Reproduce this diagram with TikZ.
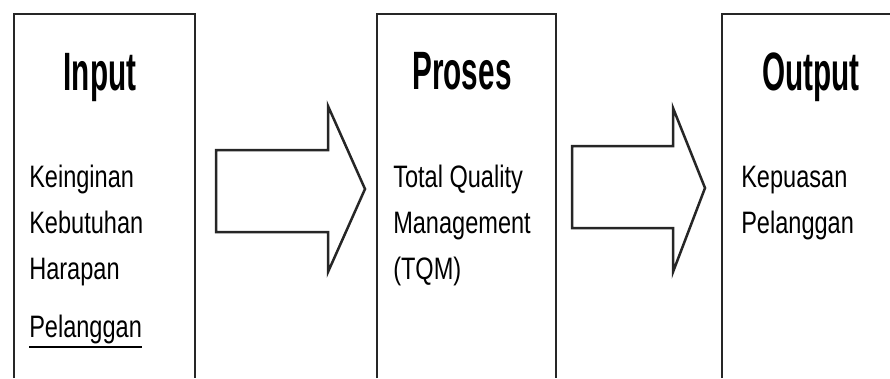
\documentclass[tikz,border=0pt]{standalone}
\usepackage{fontspec}
\setmainfont{Liberation Sans}
\newfontfamily\headfont[FakeStretch=0.55]{Liberation Sans}
\newfontfamily\bodyfont[FakeStretch=0.76]{Liberation Sans}
\usetikzlibrary{positioning}
% heavier underline than \underline gives
\newcommand{\ulword}[1]{\setbox0\hbox{#1}\rlap{\rule[-11pt]{\wd0}{2.5pt}}\box0}

\begin{document}
\begin{tikzpicture}[x=1pt, y=-1pt, line width=2.5pt,
    frame/.style={draw=black!85, line join=miter},
    title/.style={font=\headfont\bfseries\fontsize{54}{54}\selectfont, inner sep=0pt, anchor=base},
    body/.style={font=\bodyfont\fontsize{31}{46}\selectfont, align=left, inner sep=0pt, anchor=base west}]
        \useasboundingbox (0,0) rectangle (890,378);
        % open boxes
        \draw[frame] (14,378) -- (14,14) -- (195,14) -- (195,378);
        \draw[frame] (377,378) -- (377,14) -- (556,14) -- (556,378);
        \draw[frame] (722,378) -- (722,14) -- (890,14);
        % titles
        \node[title] (tin)  at (100,90) {Input};
        \node[title] (tpro) at (462,89) {Proses};
        \node[title] (tout) at (811,90) {Output};
        % texts (anchored on their last line)
        \node[body] (bin)  at (28,337) {Keinginan\\Kebutuhan\\Harapan\\[12pt]\ulword{Pelanggan}};
        \node[body] (bpro) at (392,279) {Total Quality\\Management\\(TQM)};
        \node[body] (bout) at (740,233) {Kepuasan\\Pelanggan};
        % block arrows
        \draw[frame] (216,150) -- (328,150) -- (328,106) -- (365,189) -- (328,272) -- (328,232) -- (216,232) -- cycle;
        \draw[frame] (572,146) -- (673,146) -- (673,108) -- (705,188) -- (673,272) -- (673,228) -- (572,228) -- cycle;
      \end{tikzpicture}
\end{document}
